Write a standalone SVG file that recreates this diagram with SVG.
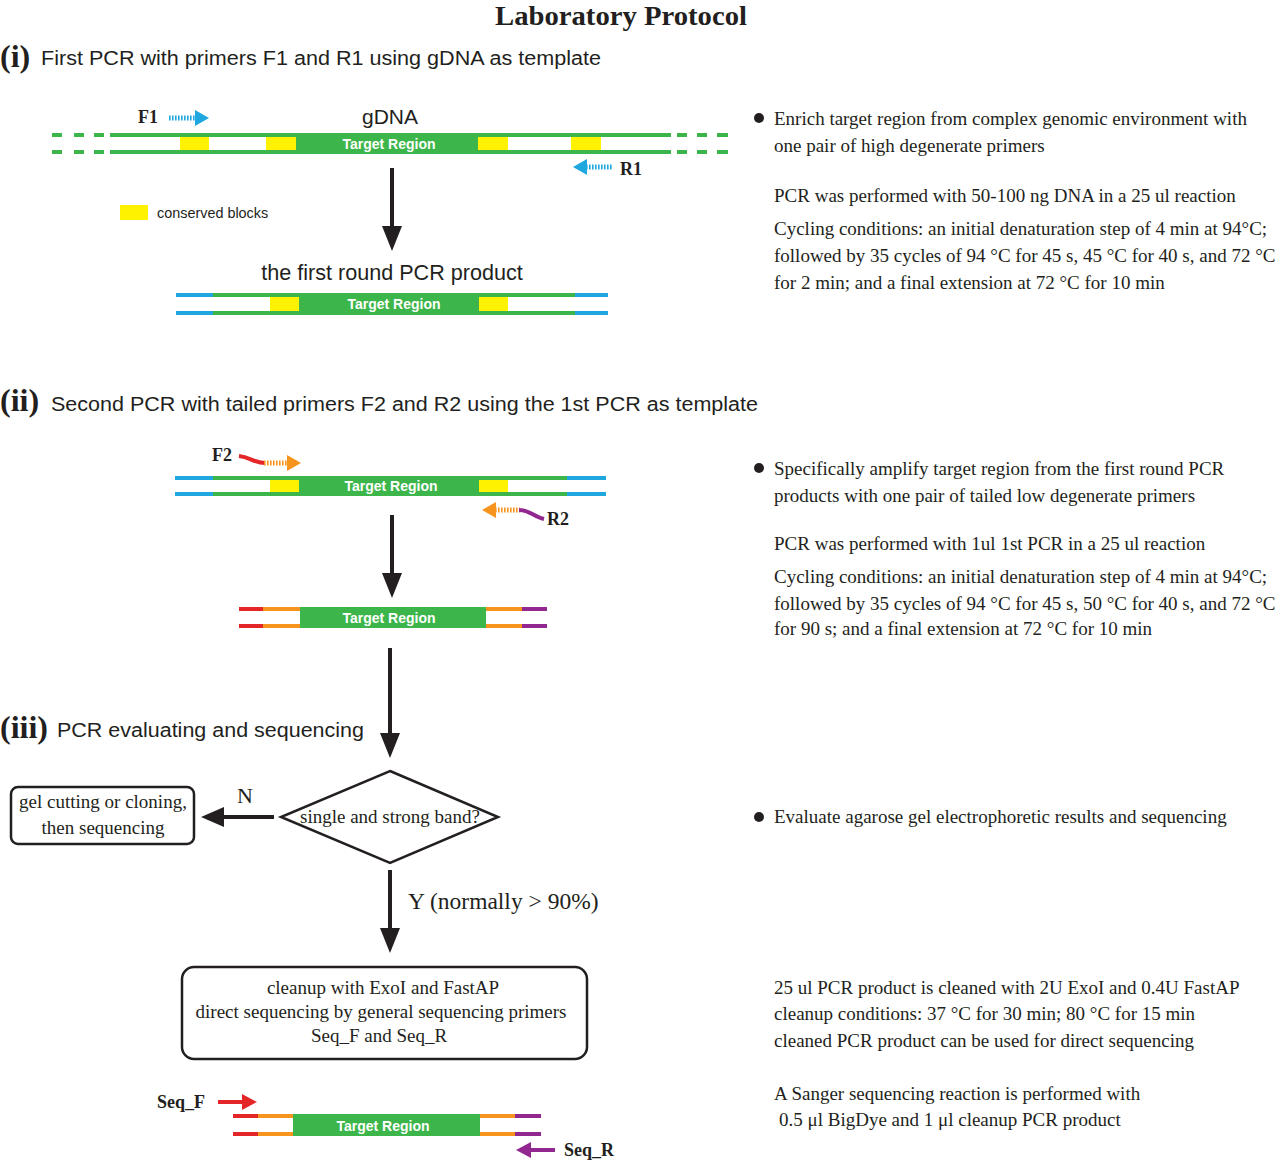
<svg xmlns="http://www.w3.org/2000/svg" width="1280" height="1160" viewBox="0 0 1280 1160">
<style>
.serif{font-family:"Liberation Serif","Times New Roman",serif;fill:#231f20}
.sans{font-family:"Liberation Sans",Arial,sans-serif;fill:#231f20}
.head{font-family:"Liberation Sans",Arial,sans-serif;font-size:20px;fill:#231f20}
.num{font-family:"Liberation Serif",serif;font-size:32px;font-weight:bold;fill:#231f20}
.rt{font-family:"Liberation Serif",serif;font-size:19px;fill:#231f20}
.bx{font-family:"Liberation Serif",serif;font-size:19px;fill:#231f20}
.tr{font-family:"Liberation Sans",Arial,sans-serif;font-size:14px;font-weight:bold;fill:#fff}
.pl{font-family:"Liberation Serif",serif;font-size:18px;font-weight:bold;fill:#231f20}
.g{stroke:#3cb54a;stroke-width:4}
.b{stroke:#1fa8e0;stroke-width:4}
.r{stroke:#e52628;stroke-width:4}
.o{stroke:#f7941d;stroke-width:4}
.p{stroke:#92278f;stroke-width:4}
.ar{stroke:#231f20;stroke-width:4;fill:none}
.box{fill:#fff;stroke:#231f20;stroke-width:2.5}
</style>
<rect width="1280" height="1160" fill="#fff"/>

<text class="serif" x="621" y="25" font-size="27" font-weight="bold" text-anchor="middle" textLength="252" lengthAdjust="spacingAndGlyphs">Laboratory Protocol</text>

<!-- section headings -->
<g id="heading-i">
<text class="num" x="0" y="67">(i)</text>
<text class="head" x="41" y="65" textLength="560" lengthAdjust="spacingAndGlyphs">First PCR with primers F1 and R1 using gDNA as template</text>
</g>
<g id="heading-ii">
<text class="num" x="0" y="411">(ii)</text>
<text class="head" x="51" y="411" textLength="707" lengthAdjust="spacingAndGlyphs">Second PCR with tailed primers F2 and R2 using the 1st PCR as template</text>
</g>
<g id="heading-iii">
<text class="num" x="0" y="738">(iii)</text>
<text class="head" x="57" y="737" textLength="307" lengthAdjust="spacingAndGlyphs">PCR evaluating and sequencing</text>
</g>

<!-- gDNA -->
<g id="gdna">
<text class="sans" x="390" y="124" font-size="21" text-anchor="middle">gDNA</text>
<g class="g">
<line x1="52" y1="135" x2="62" y2="135"/><line x1="74" y1="135" x2="84" y2="135"/><line x1="94" y1="135" x2="104" y2="135"/>
<line x1="52" y1="152" x2="62" y2="152"/><line x1="74" y1="152" x2="84" y2="152"/><line x1="94" y1="152" x2="104" y2="152"/>
<line x1="110" y1="135" x2="671" y2="135"/><line x1="110" y1="152" x2="671" y2="152"/>
<line x1="677" y1="135" x2="687" y2="135"/><line x1="697" y1="135" x2="707" y2="135"/><line x1="717" y1="135" x2="728" y2="135"/>
<line x1="677" y1="152" x2="687" y2="152"/><line x1="697" y1="152" x2="707" y2="152"/><line x1="717" y1="152" x2="728" y2="152"/>
</g>
<rect x="296" y="133" width="182" height="21" fill="#3cb54a"/>
<rect x="180" y="137" width="29" height="13" fill="#fff200"/>
<rect x="266" y="137" width="30" height="13" fill="#fff200"/>
<rect x="478" y="137" width="30" height="13" fill="#fff200"/>
<rect x="571" y="137" width="30" height="13" fill="#fff200"/>
<text class="tr" x="389" y="149" text-anchor="middle">Target Region</text>
</g>
<g id="primer-F1">
<text class="pl" x="138" y="123">F1</text>
<line x1="169" y1="118" x2="196" y2="118" stroke="#1fa8e0" stroke-width="5" stroke-dasharray="1.6 1.4"/>
<polygon points="195,110 209,118 195,126" fill="#1fa8e0"/>
</g>
<g id="primer-R1">
<line x1="586" y1="167" x2="612" y2="167" stroke="#1fa8e0" stroke-width="5" stroke-dasharray="1.6 1.4"/>
<polygon points="587,159 573,167 587,175" fill="#1fa8e0"/>
<text class="pl" x="620" y="175">R1</text>
</g>
<g id="legend">
<rect x="120" y="205" width="28" height="15" fill="#fff200"/>
<text class="sans" x="157" y="218" font-size="14.4">conserved blocks</text>
</g>

<!-- first round product -->
<g id="first-product">
<text class="sans" x="392" y="280" font-size="21.6" text-anchor="middle">the first round PCR product</text>
<line class="b" x1="176" y1="295" x2="214" y2="295"/><line class="b" x1="176" y1="313" x2="214" y2="313"/>
<line class="g" x1="213" y1="295" x2="576" y2="295"/><line class="g" x1="213" y1="313" x2="576" y2="313"/>
<line class="b" x1="575" y1="295" x2="608" y2="295"/><line class="b" x1="575" y1="313" x2="608" y2="313"/>
<rect x="299" y="293" width="180" height="22" fill="#3cb54a"/>
<rect x="270" y="297" width="29" height="14" fill="#fff200"/>
<rect x="479" y="297" width="29" height="14" fill="#fff200"/>
<text class="tr" x="394" y="309" text-anchor="middle">Target Region</text>
</g>

<!-- second PCR template -->
<g id="second-template">
<line class="b" x1="175" y1="478" x2="214" y2="478"/><line class="b" x1="175" y1="494" x2="214" y2="494"/>
<line class="g" x1="213" y1="478" x2="568" y2="478"/><line class="g" x1="213" y1="494" x2="568" y2="494"/>
<line class="b" x1="567" y1="478" x2="606" y2="478"/><line class="b" x1="567" y1="494" x2="606" y2="494"/>
<rect x="299" y="476" width="180" height="20" fill="#3cb54a"/>
<rect x="270" y="480" width="29" height="12" fill="#fff200"/>
<rect x="479" y="480" width="29" height="12" fill="#fff200"/>
<text class="tr" x="391" y="491" text-anchor="middle">Target Region</text>
</g>
<g id="primer-F2">
<text class="pl" x="212" y="461">F2</text>
<path d="M239,456 C250,457 254,463 265,463" fill="none" stroke="#e52628" stroke-width="4"/>
<line x1="264" y1="463" x2="288" y2="463" stroke="#f7941d" stroke-width="5" stroke-dasharray="1.6 1.4"/>
<polygon points="287,455 301,463 287,471" fill="#f7941d"/>
</g>
<g id="primer-R2">
<polygon points="496,502 482,510 496,518" fill="#f7941d"/>
<line x1="495" y1="510" x2="520" y2="510" stroke="#f7941d" stroke-width="5" stroke-dasharray="1.6 1.4"/>
<path d="M519,510 C530,510 534,517 544,519" fill="none" stroke="#92278f" stroke-width="4"/>
<text class="pl" x="547" y="525">R2</text>
</g>

<!-- second product -->
<g id="second-product">
<line class="r" x1="239" y1="609" x2="264" y2="609"/><line class="r" x1="239" y1="626" x2="264" y2="626"/>
<line class="o" x1="263" y1="609" x2="301" y2="609"/><line class="o" x1="263" y1="626" x2="301" y2="626"/>
<line class="o" x1="485" y1="609" x2="523" y2="609"/><line class="o" x1="485" y1="626" x2="523" y2="626"/>
<line class="p" x1="522" y1="609" x2="547" y2="609"/><line class="p" x1="522" y1="626" x2="547" y2="626"/>
<rect x="300" y="607" width="186" height="21" fill="#3cb54a"/>
<text class="tr" x="389" y="623" text-anchor="middle">Target Region</text>
</g>

<!-- decision -->
<g id="decision">
<polygon class="box" points="390,771 498,817 390,863 281,817"/>
<text class="bx" x="390" y="823" text-anchor="middle">single and strong band?</text>
</g>
<g id="gel-box">
<rect class="box" x="11" y="787" width="183" height="57" rx="7"/>
<text class="bx" x="103" y="808" text-anchor="middle">gel cutting or cloning,</text>
<text class="bx" x="103" y="834" text-anchor="middle">then sequencing</text>
</g>
<g id="cleanup-box">
<rect class="box" x="182" y="967" width="405" height="92" rx="12"/>
<text class="bx" x="383" y="994" text-anchor="middle">cleanup with ExoI and FastAP</text>
<text class="bx" x="381" y="1018" text-anchor="middle">direct sequencing by general sequencing primers</text>
<text class="bx" x="379" y="1042" text-anchor="middle">Seq_F and Seq_R</text>
</g>

<!-- sequencing product -->
<g id="seq-product">
<line class="r" x1="233" y1="1116" x2="259" y2="1116"/><line class="r" x1="233" y1="1134" x2="259" y2="1134"/>
<line class="o" x1="258" y1="1116" x2="294" y2="1116"/><line class="o" x1="258" y1="1134" x2="294" y2="1134"/>
<line class="o" x1="479" y1="1116" x2="516" y2="1116"/><line class="o" x1="479" y1="1134" x2="516" y2="1134"/>
<line class="p" x1="515" y1="1116" x2="541" y2="1116"/><line class="p" x1="515" y1="1134" x2="541" y2="1134"/>
<rect x="293" y="1114" width="187" height="22" fill="#3cb54a"/>
<text class="tr" x="383" y="1131" text-anchor="middle">Target Region</text>
</g>
<g id="primer-SeqF">
<text class="pl" x="157" y="1108">Seq_F</text>
<line x1="218" y1="1102" x2="244" y2="1102" stroke="#e52628" stroke-width="4"/>
<polygon points="242,1094 257,1102 242,1110" fill="#e52628"/>
</g>
<g id="primer-SeqR">
<polygon points="531,1142 516,1150 531,1158" fill="#92278f"/>
<line x1="529" y1="1150" x2="555" y2="1150" stroke="#92278f" stroke-width="4"/>
<text class="pl" x="564" y="1156">Seq_R</text>
</g>

<!-- connectors -->
<g id="connectors">
<line class="ar" x1="392" y1="168" x2="392" y2="228"/>
<polygon points="382,226 402,226 392,251" fill="#231f20"/>
<line class="ar" x1="392" y1="515" x2="392" y2="575"/>
<polygon points="382,573 402,573 392,598" fill="#231f20"/>
<line class="ar" x1="390" y1="648" x2="390" y2="735"/>
<polygon points="380,733 400,733 390,758" fill="#231f20"/>
<line class="ar" x1="274" y1="817" x2="222" y2="817"/>
<polygon points="224,807 224,827 201,817" fill="#231f20"/>
<text class="serif" x="237" y="803" font-size="22">N</text>
<line class="ar" x1="390" y1="870" x2="390" y2="930"/>
<polygon points="380,928 400,928 390,953" fill="#231f20"/>
<text class="serif" x="408" y="909" font-size="23.5">Y (normally &gt; 90%)</text>
</g>

<!-- right notes -->
<g id="notes-i">
<circle cx="759" cy="118" r="5" fill="#231f20"/>
<text class="rt" x="774" y="125">Enrich target region from complex genomic environment with</text>
<text class="rt" x="774" y="152">one pair of high degenerate primers</text>
<text class="rt" x="774" y="202">PCR was performed with 50-100 ng DNA in a 25 ul reaction</text>
<text class="rt" x="774" y="235">Cycling conditions: an initial denaturation step of 4 min at 94°C;</text>
<text class="rt" x="774" y="262">followed by 35 cycles of 94 °C for 45 s, 45 °C for 40 s, and 72 °C</text>
<text class="rt" x="774" y="289">for 2 min; and a final extension at 72 °C for 10 min</text>
</g>
<g id="notes-ii">
<circle cx="759" cy="468" r="5" fill="#231f20"/>
<text class="rt" x="774" y="475">Specifically amplify target region from the first round PCR</text>
<text class="rt" x="774" y="502">products with one pair of tailed low degenerate primers</text>
<text class="rt" x="774" y="550">PCR was performed with 1ul 1st PCR in a 25 ul reaction</text>
<text class="rt" x="774" y="583">Cycling conditions: an initial denaturation step of 4 min at 94°C;</text>
<text class="rt" x="774" y="610">followed by 35 cycles of 94 °C for 45 s, 50 °C for 40 s, and 72 °C</text>
<text class="rt" x="774" y="635">for 90 s; and a final extension at 72 °C for 10 min</text>
</g>
<g id="notes-iii">
<circle cx="759" cy="817" r="5" fill="#231f20"/>
<text class="rt" x="774" y="823">Evaluate agarose gel electrophoretic results and sequencing</text>
<text class="rt" x="774" y="994">25 ul PCR product is cleaned with 2U ExoI and 0.4U FastAP</text>
<text class="rt" x="774" y="1020">cleanup conditions: 37 °C for 30 min; 80 °C for 15 min</text>
<text class="rt" x="774" y="1047">cleaned PCR product can be used for direct sequencing</text>
<text class="rt" x="774" y="1100">A Sanger sequencing reaction is performed with</text>
<text class="rt" x="779" y="1126">0.5 μl BigDye and 1 μl cleanup PCR product</text>
</g>
</svg>
